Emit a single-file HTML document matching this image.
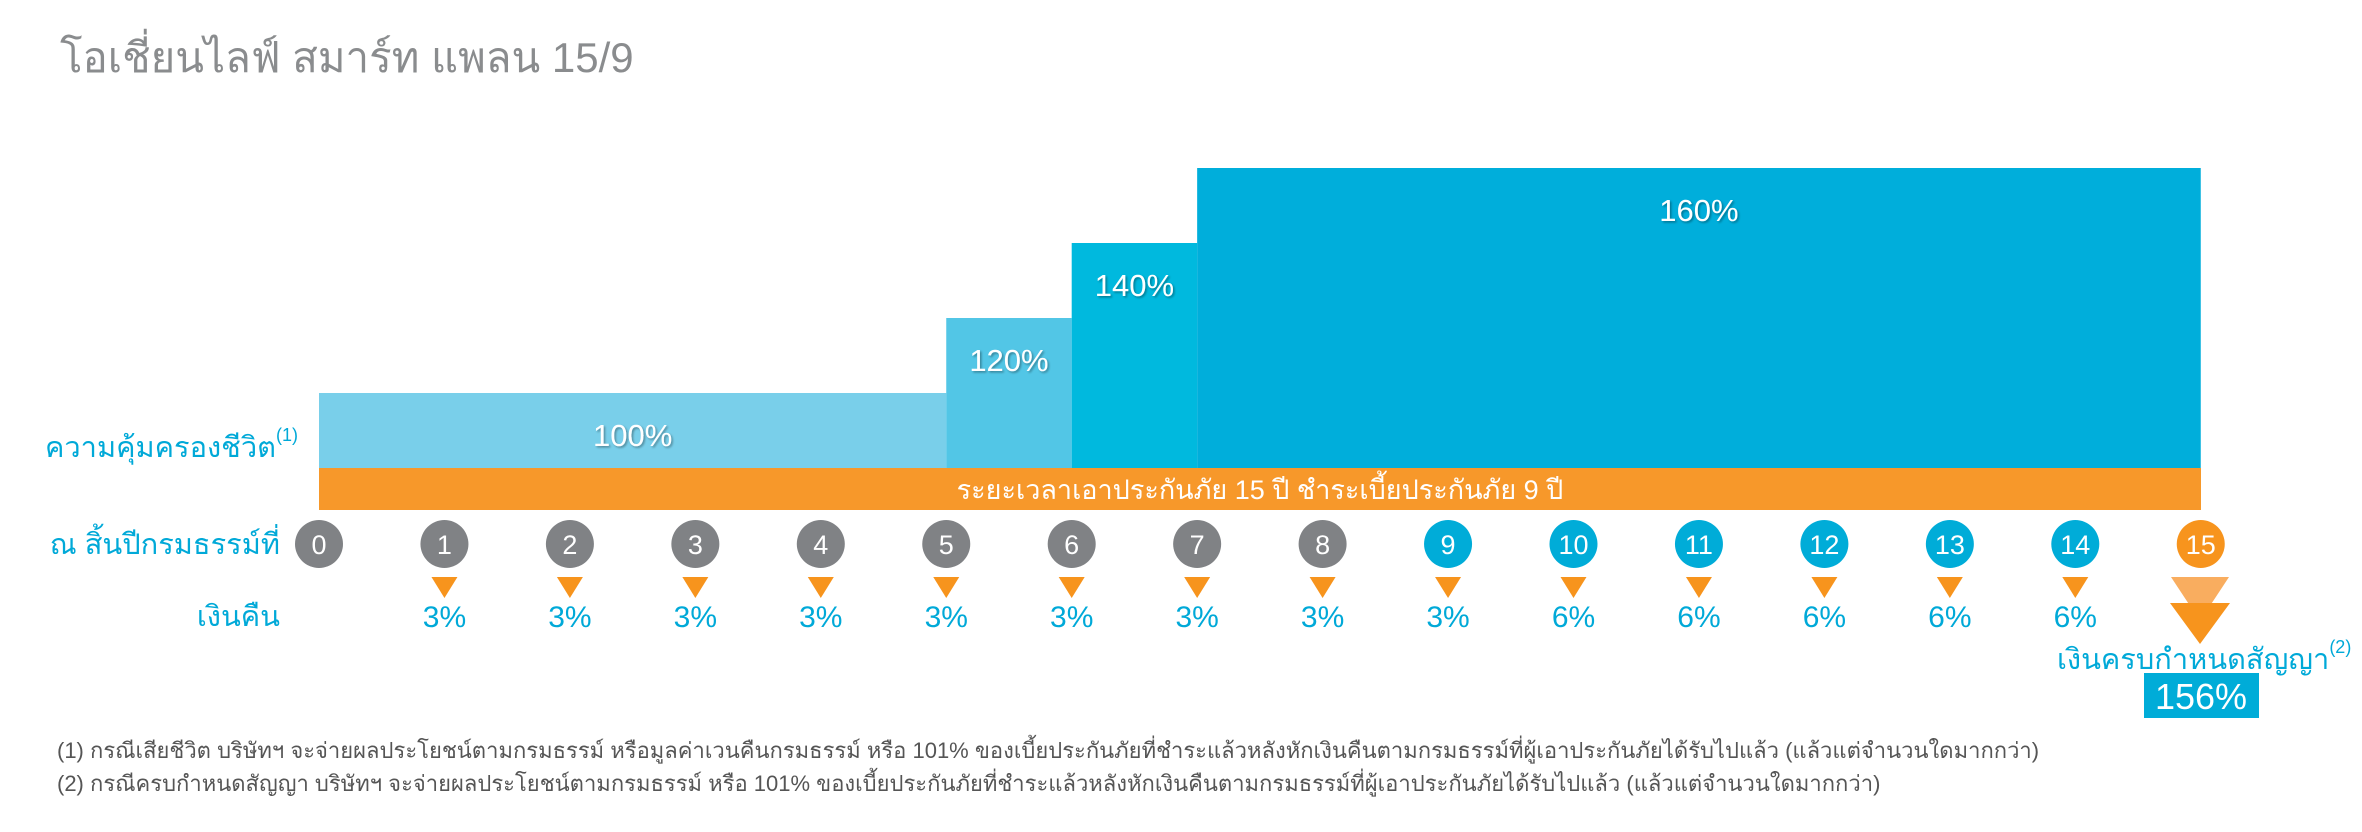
<!DOCTYPE html>
<html><head><meta charset="utf-8">
<style>
html,body{margin:0;padding:0;background:#fff;}
body{width:2362px;height:827px;overflow:hidden;font-family:"Liberation Sans","DejaVu Sans",sans-serif;}
svg text{font-family:"Liberation Sans","DejaVu Sans",sans-serif;}
</style></head>
<body>
<svg id="chart" width="2362" height="827" viewBox="0 0 2362 827" xmlns="http://www.w3.org/2000/svg">
<defs>
<filter id="sh" x="-20%" y="-20%" width="140%" height="140%"><feDropShadow dx="1.5" dy="1.5" stdDeviation="1" flood-color="#000" flood-opacity="0.35"/></filter>
</defs>
<text x="60" y="72" font-size="42" fill="#8a8c8e">โอเชี่ยนไลฟ์ สมาร์ท แพลน 15/9</text>
<g id="bars"></g>
<rect x="319" y="468" width="1882" height="42" fill="#f7982a"/>
<text x="1260" y="499" font-size="27" fill="#fff" text-anchor="middle">ระยะเวลาเอาประกันภัย 15 ปี ชำระเบี้ยประกันภัย 9 ปี</text>
<text x="45" y="457" font-size="29" fill="#00a9d8">ความคุ้มครองชีวิต<tspan font-size="18" dy="-16">(1)</tspan></text>
<text x="280" y="554" font-size="29" fill="#00a9d8" text-anchor="end">ณ สิ้นปีกรมธรรม์ที่</text>
<text x="280" y="626" font-size="29" fill="#00a9d8" text-anchor="end">เงินคืน</text>
<g id="years"></g>
<g id="cash"></g>
<polygon points="2171,577 2229,577 2200,621" fill="#f9ad5f"/>
<polygon points="2170,603 2230,603 2200,644" fill="#f7941d"/>
<text x="2057" y="669" font-size="29" fill="#00a9d8">เงินครบกำหนดสัญญา<tspan font-size="18" dy="-16">(2)</tspan></text>
<rect x="2144" y="673" width="115" height="45" fill="#00acd8"/>
<text x="2201" y="709" font-size="36" fill="#fff" text-anchor="middle">156%</text>
<text x="57" y="758" font-size="22" fill="#555">(1) กรณีเสียชีวิต บริษัทฯ จะจ่ายผลประโยชน์ตามกรมธรรม์ หรือมูลค่าเวนคืนกรมธรรม์ หรือ 101% ของเบี้ยประกันภัยที่ชำระแล้วหลังหักเงินคืนตามกรมธรรม์ที่ผู้เอาประกันภัยได้รับไปแล้ว (แล้วแต่จำนวนใดมากกว่า)</text>
<text x="57" y="791" font-size="22" fill="#555">(2) กรณีครบกำหนดสัญญา บริษัทฯ จะจ่ายผลประโยชน์ตามกรมธรรม์ หรือ 101% ของเบี้ยประกันภัยที่ชำระแล้วหลังหักเงินคืนตามกรมธรรม์ที่ผู้เอาประกันภัยได้รับไปแล้ว (แล้วแต่จำนวนใดมากกว่า)</text>
</svg>
<script>
const coverageStart = [0, 5, 6, 7];
const coverageEnd = [5, 6, 7, 15];
const coverageValues = [100, 120, 140, 160];
const coverageLabels = ["100%", "120%", "140%", "160%"];
const years = [0,1,2,3,4,5,6,7,8,9,10,11,12,13,14,15];
const cashbackValues = [3,3,3,3,3,3,3,3,3,6,6,6,6,6];
const cashbackLabels = ["3%","3%","3%","3%","3%","3%","3%","3%","3%","6%","6%","6%","6%","6%"];
const barColors = ["#79cfea", "#52c6e6", "#00b9de", "#00aedb"];

const NS = "http://www.w3.org/2000/svg";
const xScale = y => 319 + y * 125.45;
const baseY = 468;
const hScale = v => (v - 80) * 3.75;
function mk(tag, attrs, parent){const e=document.createElementNS(NS,tag);for(const k in attrs)e.setAttribute(k,attrs[k]);parent.appendChild(e);return e;}

const gb = document.getElementById("bars");
coverageValues.forEach((v,i)=>{
  const x0=xScale(coverageStart[i]), x1=xScale(coverageEnd[i]), h=hScale(v);
  const r=mk("rect",{x:x0,y:baseY-h,width:x1-x0,height:h,fill:barColors[i]},gb);
  
  
  const t=mk("text",{x:(x0+x1)/2,y:baseY-h+53,"font-size":31,fill:"#fff","text-anchor":"middle",filter:"url(#sh)"},gb);
  t.textContent=coverageLabels[i];
  
  
});

const gy = document.getElementById("years");
years.forEach(y=>{
  const cx=xScale(y);
  const fill = y===15 ? "#f7941d" : (y>=9 ? "#00acd8" : "#808285");
  const c=mk("ellipse",{cx:cx,cy:544,rx:24,ry:24,fill:fill},gy);
  
  
  const t=mk("text",{x:cx,y:554,"font-size":27,fill:"#fff","text-anchor":"middle"},gy);
  t.textContent=String(y);
  
  
});

const gc = document.getElementById("cash");
cashbackValues.forEach((v,i)=>{
  const cx=xScale(i+1);
  const p=mk("polygon",{points:(cx-13)+",577 "+(cx+13)+",577 "+cx+",598",fill:"#f7941d"},gc);
  
  
  const t=mk("text",{x:cx,y:627,"font-size":30,fill:"#00a9d8","text-anchor":"middle"},gc);
  t.textContent=cashbackLabels[i];
  
  
});
</script>
</body></html>
